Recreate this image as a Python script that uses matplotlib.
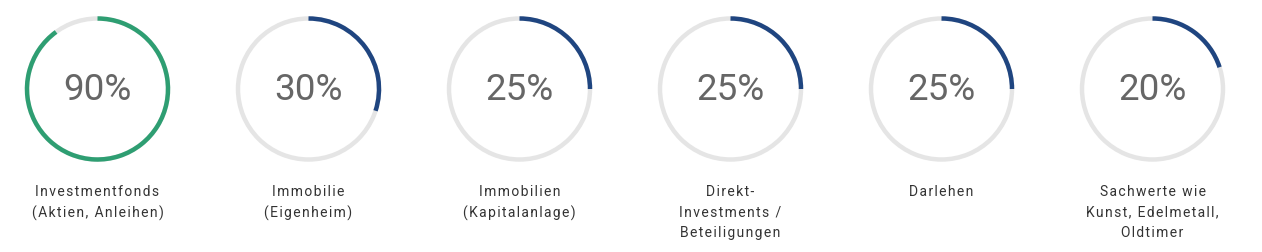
import matplotlib
matplotlib.use('Agg')
import matplotlib.pyplot as plt
from matplotlib.patches import Arc

# Anteile je Anlageform
werte = [90, 30, 25, 25, 25, 20]
labels = [
    "Investmentfonds\n(Aktien, Anleihen)",
    "Immobilie\n(Eigenheim)",
    "Immobilien\n(Kapitalanlage)",
    "Direkt-\nInvestments /\nBeteiligungen",
    "Darlehen",
    "Sachwerte wie\nKunst, Edelmetall,\nOldtimer",
]
farben = ["#2e9e72", "#1f4580", "#1f4580", "#1f4580", "#1f4580", "#1f4580"]

W, H = 1262, 252
fig = plt.figure(figsize=(W / 100, H / 100), dpi=100)
ax = fig.add_axes([0, 0, 1, 1])
ax.set_xlim(0, W)
ax.set_ylim(H, 0)
ax.set_aspect('equal')
ax.axis('off')

x0, dx = 97.5, 211
cy, r = 89, 70.5


def sperren(s):
    # Buchstabenabstand per Hair Space simulieren
    return "\n".join("\u200a".join(z) for z in s.split("\n"))


for i, (v, lab, c) in enumerate(zip(werte, labels, farben)):
    cx = x0 + i * dx
    ax.add_patch(Arc((cx, cy), 2 * r, 2 * r, theta1=0, theta2=360,
                     color="#e5e5e5", lw=3.2))
    # y-Achse ist invertiert: Winkel laufen im Uhrzeigersinn
    ax.add_patch(Arc((cx, cy), 2 * r, 2 * r, theta1=-90, theta2=-90 + 3.6 * v,
                     color=c, lw=3.2, capstyle='butt'))
    ax.text(cx, cy + 1.5, f"{v}%", ha='center', va='center', fontsize=26.5,
            family='Roboto', color='#666666')
    ax.text(cx, 185.5, sperren(lab), ha='center', va='top', fontsize=10,
            family=['Roboto', 'DejaVu Sans'], color='#333333', linespacing=1.55)

fig.savefig("out.png", dpi=100)
